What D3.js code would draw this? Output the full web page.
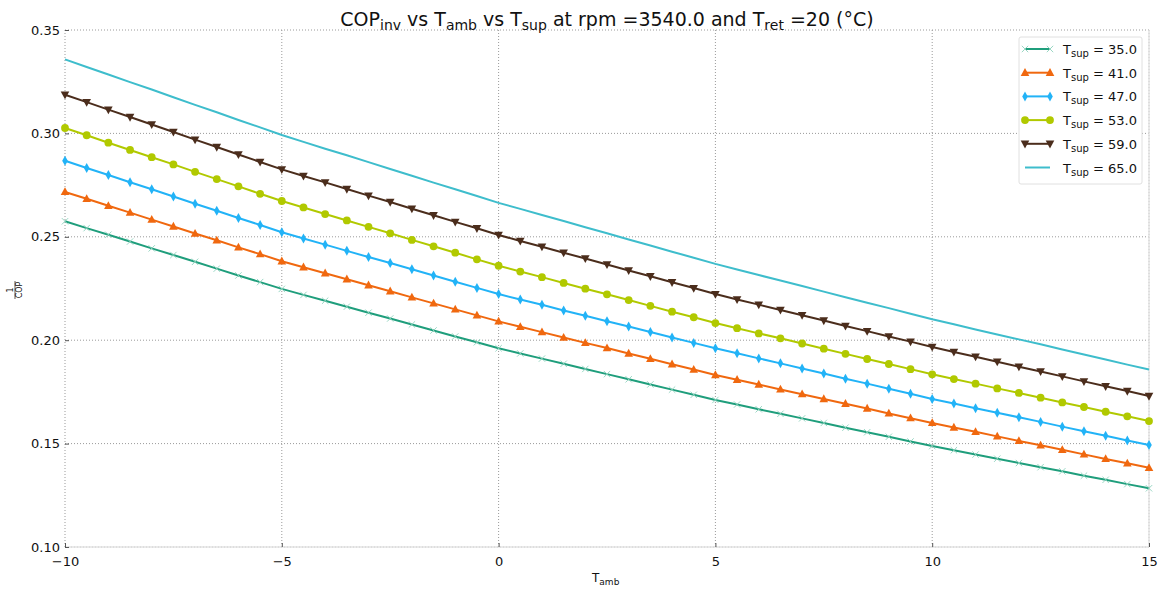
<!DOCTYPE html>
<html>
<head>
<meta charset="utf-8">
<script src="https://cdn.jsdelivr.net/npm/d3@7"></script>
<style>
  body { margin: 0; background: #fff; }
  text { font-family: "DejaVu Sans", sans-serif; fill: #111; }
</style>
</head>
<body>
<div id="chart"></div>
<script>
// T_amb, pasos de 0.5
const tAmb = d3.range(51).map(i => -10 + i * 0.5);

const xTicks = [-10, -5, 0, 5, 10, 15];
const yTicks = [0.10, 0.15, 0.20, 0.25, 0.30, 0.35];

const tSup = [35.0, 41.0, 47.0, 53.0, 59.0, 65.0];

const sup35 = [0.2575, 0.2542, 0.2510, 0.2477, 0.2444, 0.2412, 0.2379, 0.2346, 0.2313, 0.2281, 0.2248,
  0.2219, 0.2191, 0.2162, 0.2133, 0.2105, 0.2076, 0.2047, 0.2018, 0.1990, 0.1961,
  0.1936, 0.1911, 0.1886, 0.1861, 0.1836, 0.1811, 0.1786, 0.1761, 0.1736, 0.1711,
  0.1689, 0.1666, 0.1644, 0.1622, 0.1600, 0.1577, 0.1555, 0.1533, 0.1510, 0.1488,
  0.1468, 0.1447, 0.1427, 0.1406, 0.1386, 0.1366, 0.1345, 0.1325, 0.1304, 0.1284];
const sup41 = [0.2717, 0.2684, 0.2650, 0.2617, 0.2583, 0.2550, 0.2516, 0.2483, 0.2449, 0.2416, 0.2382,
  0.2353, 0.2324, 0.2295, 0.2266, 0.2237, 0.2207, 0.2178, 0.2149, 0.2120, 0.2091,
  0.2065, 0.2039, 0.2013, 0.1987, 0.1962, 0.1936, 0.1910, 0.1884, 0.1858, 0.1832,
  0.1809, 0.1786, 0.1762, 0.1739, 0.1716, 0.1693, 0.1670, 0.1646, 0.1623, 0.1600,
  0.1578, 0.1557, 0.1535, 0.1513, 0.1492, 0.1470, 0.1448, 0.1426, 0.1405, 0.1383];
const sup47 = [0.2868, 0.2833, 0.2799, 0.2764, 0.2730, 0.2695, 0.2660, 0.2626, 0.2591, 0.2557, 0.2522,
  0.2492, 0.2462, 0.2432, 0.2402, 0.2373, 0.2343, 0.2313, 0.2283, 0.2253, 0.2223,
  0.2197, 0.2171, 0.2144, 0.2118, 0.2092, 0.2066, 0.2040, 0.2013, 0.1987, 0.1961,
  0.1937, 0.1912, 0.1888, 0.1863, 0.1839, 0.1814, 0.1790, 0.1765, 0.1741, 0.1716,
  0.1694, 0.1671, 0.1649, 0.1627, 0.1605, 0.1582, 0.1560, 0.1538, 0.1515, 0.1493];
const sup53 = [0.3026, 0.2991, 0.2955, 0.2920, 0.2885, 0.2850, 0.2814, 0.2779, 0.2744, 0.2708, 0.2673,
  0.2642, 0.2610, 0.2579, 0.2548, 0.2517, 0.2485, 0.2454, 0.2423, 0.2391, 0.2360,
  0.2332, 0.2305, 0.2277, 0.2249, 0.2222, 0.2194, 0.2166, 0.2138, 0.2111, 0.2083,
  0.2058, 0.2033, 0.2009, 0.1984, 0.1959, 0.1934, 0.1909, 0.1885, 0.1860, 0.1835,
  0.1812, 0.1790, 0.1767, 0.1745, 0.1722, 0.1699, 0.1677, 0.1654, 0.1632, 0.1609];
const sup59 = [0.3187, 0.3151, 0.3115, 0.3079, 0.3043, 0.3007, 0.2970, 0.2934, 0.2898, 0.2862, 0.2826,
  0.2794, 0.2763, 0.2731, 0.2699, 0.2668, 0.2636, 0.2604, 0.2572, 0.2541, 0.2509,
  0.2480, 0.2452, 0.2423, 0.2395, 0.2366, 0.2337, 0.2309, 0.2280, 0.2252, 0.2223,
  0.2197, 0.2172, 0.2146, 0.2121, 0.2095, 0.2069, 0.2044, 0.2018, 0.1993, 0.1967,
  0.1943, 0.1920, 0.1896, 0.1872, 0.1849, 0.1825, 0.1801, 0.1777, 0.1754, 0.1730];
const sup65 = [0.3358, 0.3321, 0.3285, 0.3248, 0.3212, 0.3175, 0.3138, 0.3102, 0.3065, 0.3029, 0.2992,
  0.2959, 0.2926, 0.2894, 0.2861, 0.2828, 0.2795, 0.2762, 0.2730, 0.2697, 0.2664,
  0.2635, 0.2605, 0.2576, 0.2546, 0.2517, 0.2487, 0.2458, 0.2428, 0.2399, 0.2369,
  0.2342, 0.2315, 0.2289, 0.2262, 0.2235, 0.2208, 0.2181, 0.2155, 0.2128, 0.2101,
  0.2077, 0.2052, 0.2028, 0.2004, 0.1980, 0.1955, 0.1931, 0.1907, 0.1882, 0.1858];

const valores = [sup35, sup41, sup47, sup53, sup59, sup65];
const colores = ["#1f9e7c", "#f0680f", "#22b3f7", "#b1c900", "#4b2d1c", "#3ebdcc"];
const marcadores = ["cross", "triangle", "diamond", "circle", "triangleDown", null];

const series = tSup.map((t, i) => ({
  tSup: t,
  color: colores[i],
  marcador: marcadores[i],
  puntos: tAmb.map((x, j) => ({ x, y: valores[i][j] }))
}));

const svgWidth = 1164, svgHeight = 590;
const margin = { top: 30, right: 15, bottom: 43, left: 65 };
const width = svgWidth - margin.left - margin.right;
const height = svgHeight - margin.top - margin.bottom;

const svgRoot = d3.select("#chart").append("svg")
  .attr("width", svgWidth)
  .attr("height", svgHeight);

const svg = svgRoot.append("g")
  .attr("transform", `translate(${margin.left}, ${margin.top})`);

const x = d3.scaleLinear().domain([-10, 15]).range([0, width]);
const y = d3.scaleLinear().domain([0.10, 0.35]).range([height, 0]);

// Rejilla punteada
svg.append("g").selectAll("line")
  .data(xTicks)
  .enter().append("line")
  .attr("x1", d => x(d)).attr("x2", d => x(d))
  .attr("y1", 0).attr("y2", height)
  .attr("stroke", "#9a9a9a").attr("stroke-width", 1)
  .attr("stroke-dasharray", "1,2");

svg.append("g").selectAll("line")
  .data(yTicks)
  .enter().append("line")
  .attr("x1", 0).attr("x2", width)
  .attr("y1", d => y(d)).attr("y2", d => y(d))
  .attr("stroke", "#9a9a9a").attr("stroke-width", 1)
  .attr("stroke-dasharray", "1,2");

// Bordes claros (abajo y derecha)
svg.append("line").attr("x1", 0).attr("x2", width).attr("y1", height).attr("y2", height)
  .attr("stroke", "#e3e3e3").attr("stroke-width", 1.5);
svg.append("line").attr("x1", width).attr("x2", width).attr("y1", 0).attr("y2", height)
  .attr("stroke", "#e3e3e3").attr("stroke-width", 1.5);

// Ejes
const ejeX = svg.append("g")
  .attr("transform", `translate(0, ${height})`)
  .call(d3.axisBottom(x).tickValues(xTicks).tickSizeInner(-4).tickSizeOuter(0)
    .tickFormat(d => d < 0 ? "\u2212" + Math.abs(d) : d));
ejeX.select(".domain").remove();
ejeX.selectAll("line").attr("stroke", "#555");
ejeX.selectAll("text").attr("dy", "0").attr("y", 19).style("font-size", "13px")
  .style("font-family", "DejaVu Sans");

const ejeY = svg.append("g")
  .call(d3.axisLeft(y).tickValues(yTicks).tickSizeInner(-4).tickSizeOuter(0)
    .tickFormat(d3.format(".2f")));
ejeY.select(".domain").remove();
ejeY.selectAll("line").attr("stroke", "#555");
ejeY.selectAll("text").attr("x", -5).style("font-size", "13px")
  .style("font-family", "DejaVu Sans");

// Líneas
const linea = d3.line().x(d => x(d.x)).y(d => y(d.y));

svg.append("g").selectAll("path")
  .data(series)
  .enter().append("path")
  .attr("d", d => linea(d.puntos))
  .attr("fill", "none")
  .attr("stroke", d => d.color)
  .attr("stroke-width", 2);

// Marcadores
function dibujarMarcador(g, tipo, color) {
  if (tipo === "circle") {
    g.append("circle").attr("r", 3.9).attr("fill", color);
  } else if (tipo === "triangle") {
    g.append("path").attr("d", "M0,-4.6L4.3,3.2L-4.3,3.2Z").attr("fill", color);
  } else if (tipo === "triangleDown") {
    g.append("path").attr("d", "M0,4.6L4.3,-3.2L-4.3,-3.2Z").attr("fill", color);
  } else if (tipo === "diamond") {
    g.append("path").attr("d", "M0,-5L2.8,0L0,5L-2.8,0Z").attr("fill", color);
  } else if (tipo === "cross") {
    g.append("path").attr("d", "M-3.2,-3.2L3.2,3.2M-3.2,3.2L3.2,-3.2")
      .attr("stroke", "#8fd3bd").attr("stroke-width", 0.9).attr("fill", "none");
  }
}

series.filter(s => s.marcador).forEach(s => {
  svg.append("g").selectAll("g")
    .data(s.puntos)
    .enter().append("g")
    .attr("transform", d => `translate(${x(d.x)}, ${y(d.y)})`)
    .each(function () { dibujarMarcador(d3.select(this), s.marcador, s.color); });
});

// Título
const titulo = svgRoot.append("text")
  .attr("x", margin.left + width / 2)
  .attr("y", 26)
  .attr("text-anchor", "middle")
  .style("font-size", "19px");
const partes = [["COP", ""], ["inv", "sub"], [" vs T", ""], ["amb", "sub"], [" vs T", ""], ["sup", "sub"],
  [" at rpm =3540.0 and T", ""], ["ret", "sub"], [" =20 (°C)", ""]];
let enSub = false;
partes.forEach(([t, tipo]) => {
  const ts = titulo.append("tspan").text(t);
  if (tipo === "sub") {
    ts.attr("dy", 4).style("font-size", "14px");
    enSub = true;
  } else if (enSub) {
    ts.attr("dy", -4);
    enSub = false;
  }
});

// Etiqueta eje X
const etiquetaX = svgRoot.append("text")
  .attr("x", 592).attr("y", 582)
  .style("font-size", "12px");
etiquetaX.append("tspan").text("T");
etiquetaX.append("tspan").text("amb").attr("dy", 3).style("font-size", "9px");

// Etiqueta eje Y (fracción 1/COP)
const etiquetaY = svgRoot.append("g").attr("transform", "translate(15, 290) rotate(-90)");
etiquetaY.append("text").attr("x", 0).attr("y", -2).attr("text-anchor", "middle")
  .style("font-size", "8px").text("1");
etiquetaY.append("line").attr("x1", -9).attr("x2", 9).attr("y1", 0).attr("y2", 0)
  .attr("stroke", "#111").attr("stroke-width", 0.7);
etiquetaY.append("text").attr("x", 0).attr("y", 7).attr("text-anchor", "middle")
  .style("font-size", "8px").text("COP");

// Leyenda
const leyenda = svgRoot.append("g").attr("transform", "translate(1019, 37)");
leyenda.append("rect")
  .attr("width", 123).attr("height", 147)
  .attr("rx", 2)
  .attr("fill", "#fff")
  .attr("stroke", "#e0e0e0");

series.forEach((s, i) => {
  const fila = leyenda.append("g").attr("transform", `translate(0, ${12 + i * 23.7})`);
  fila.append("line").attr("x1", 6).attr("x2", 31).attr("y1", 0).attr("y2", 0)
    .attr("stroke", s.color).attr("stroke-width", 2);
  if (s.marcador) {
    [6, 31].forEach(px => {
      const m = fila.append("g").attr("transform", `translate(${px}, 0)`);
      dibujarMarcador(m, s.marcador, s.color);
    });
  }
  const txt = fila.append("text").attr("x", 44).attr("y", 5).style("font-size", "13px");
  txt.append("tspan").text("T");
  txt.append("tspan").text("sup").attr("dy", 3).style("font-size", "10px");
  txt.append("tspan").text(" = " + s.tSup.toFixed(1)).attr("dy", -3);
});
</script>
</body>
</html>
